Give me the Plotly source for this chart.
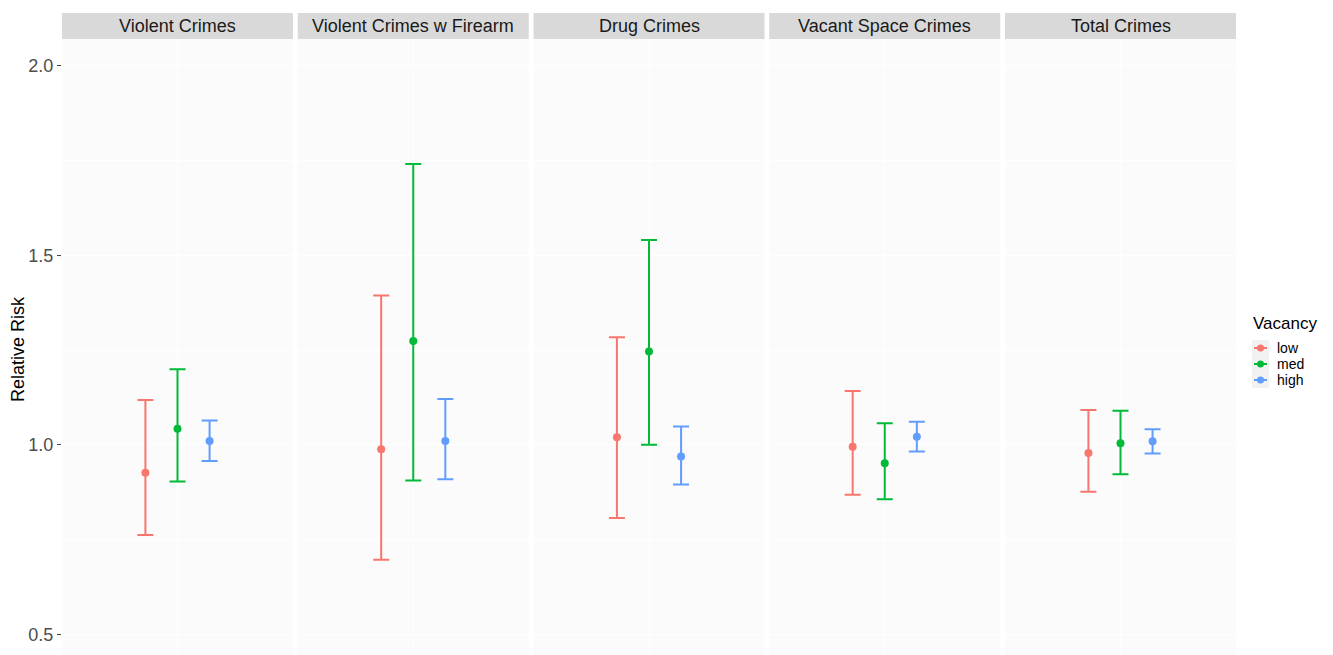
import plotly.graph_objects as go
from plotly.subplots import make_subplots

# Crime categories (facets) and vacancy levels
categories = ["Violent Crimes", "Violent Crimes w Firearm", "Drug Crimes",
              "Vacant Space Crimes", "Total Crimes"]
vacancy = ["low", "med", "high"]

# Relative risk estimates with 95% interval bounds, per vacancy level
est_low = [0.926, 0.988, 1.020, 0.995, 0.978]
lo_low = [0.762, 0.697, 0.807, 0.868, 0.876]
hi_low = [1.118, 1.394, 1.284, 1.142, 1.092]

est_med = [1.042, 1.274, 1.246, 0.951, 1.004]
lo_med = [0.903, 0.906, 1.000, 0.856, 0.922]
hi_med = [1.199, 1.741, 1.540, 1.057, 1.090]

est_high = [1.010, 1.010, 0.969, 1.021, 1.009]
lo_high = [0.957, 0.909, 0.895, 0.982, 0.977]
hi_high = [1.064, 1.121, 1.048, 1.061, 1.041]

y_ticks = [0.5, 1.0, 1.5, 2.0]
y_ticktext = ["0.5", "1.0", "1.5", "2.0"]

series = {
    "low": (est_low, lo_low, hi_low),
    "med": (est_med, lo_med, hi_med),
    "high": (est_high, lo_high, hi_high),
}
colors = {"low": "#F8766D", "med": "#00BA38", "high": "#619CFF"}
dodge = {"low": -1 / 6, "med": 0.0, "high": 1 / 6}

FONT = "Liberation Sans, Arial, Helvetica, sans-serif"
W, H = 1333, 655
ML, MR, MT, MB = 62, 97, 39, 0
PW, PH = W - ML - MR, H - MT - MB

n = len(categories)
gap = 4.75 / PW
fig = make_subplots(rows=1, cols=n, shared_yaxes=True, horizontal_spacing=gap)

for i, cat in enumerate(categories):
    for lvl in vacancy:
        est, lo, hi = series[lvl]
        y = est[i]
        fig.add_trace(
            go.Scatter(
                x=[1 + dodge[lvl]], y=[y], mode="markers",
                marker=dict(color=colors[lvl], size=8),
                error_y=dict(type="data", symmetric=False,
                             array=[hi[i] - y], arrayminus=[y - lo[i]],
                             color=colors[lvl], thickness=2, width=8),
                showlegend=False, name=lvl, hoverinfo="y",
            ),
            row=1, col=i + 1,
        )

y_range = [0.4454, 2.0705]
for i in range(n):
    fig.update_xaxes(range=[0.4, 1.6], tickvals=[1], showticklabels=False,
                     ticks="", showgrid=True, gridcolor="#ffffff", gridwidth=1,
                     zeroline=False, showline=False, row=1, col=i + 1)
    fig.update_yaxes(range=y_range, tickvals=y_ticks, ticktext=y_ticktext,
                     showgrid=True, gridcolor="#ffffff", gridwidth=1,
                     minor=dict(dtick=0.25, tick0=0.25, showgrid=True,
                                gridcolor="#ffffff", gridwidth=0.5),
                     zeroline=False, showline=False,
                     showticklabels=(i == 0),
                     ticks="outside" if i == 0 else "",
                     ticklen=4, tickcolor="#444444", tickwidth=1,
                     tickfont=dict(family=FONT, size=18, color="#4d4d4d"),
                     row=1, col=i + 1)


def px_x(px):
    return (px - ML) / PW


def px_y(py):
    return (H - MB - py) / PH


shapes = []
annotations = []

# Facet strips above each panel
for i, cat in enumerate(categories):
    xa = fig.layout["xaxis" if i == 0 else f"xaxis{i + 1}"]
    d0, d1 = xa.domain
    shapes.append(dict(type="rect", xref="paper", yref="paper",
                       x0=d0, x1=d1, y0=px_y(39), y1=px_y(13),
                       fillcolor="#d9d9d9", line=dict(width=0), layer="below"))
    annotations.append(dict(text=cat, xref="paper", yref="paper",
                            x=(d0 + d1) / 2, y=px_y(26), showarrow=False,
                            xanchor="center", yanchor="middle",
                            font=dict(family=FONT, size=18, color="#1a1a1a")))

# Y axis title
annotations.append(dict(text="Relative Risk", xref="paper", yref="paper",
                        x=px_x(18), y=px_y(349), textangle=-90,
                        showarrow=False, xanchor="center", yanchor="middle",
                        font=dict(family=FONT, size=18, color="#000000")))

# Legend
annotations.append(dict(text="Vacancy", xref="paper", yref="paper",
                        x=px_x(1251), y=px_y(323), showarrow=False,
                        xanchor="left", yanchor="middle",
                        font=dict(family=FONT, size=17, color="#000000")))
shapes.append(dict(type="rect", xref="paper", yref="paper",
                   x0=px_x(1252), x1=px_x(1269), y0=px_y(388), y1=px_y(340),
                   fillcolor="#f2f2f2", line=dict(width=0)))
for k, lvl in enumerate(vacancy):
    cy = 348 + 16 * k
    c = colors[lvl]
    shapes.append(dict(type="line", xref="paper", yref="paper",
                       x0=px_x(1254), x1=px_x(1267), y0=px_y(cy), y1=px_y(cy),
                       line=dict(color=c, width=2)))
    shapes.append(dict(type="circle", xref="paper", yref="paper",
                       x0=px_x(1257), x1=px_x(1264),
                       y0=px_y(cy + 3.5), y1=px_y(cy - 3.5),
                       fillcolor=c, line=dict(width=0)))
    annotations.append(dict(text=lvl, xref="paper", yref="paper",
                            x=px_x(1275), y=px_y(cy), showarrow=False,
                            xanchor="left", yanchor="middle",
                            font=dict(family=FONT, size=14, color="#000000")))

fig.update_layout(
    width=W, height=H,
    margin=dict(l=ML, r=MR, t=MT, b=MB, autoexpand=False),
    paper_bgcolor="#ffffff", plot_bgcolor="#fbfbfb",
    showlegend=False, shapes=shapes, annotations=annotations,
    font=dict(family=FONT),
)

fig.write_html("out.html")
